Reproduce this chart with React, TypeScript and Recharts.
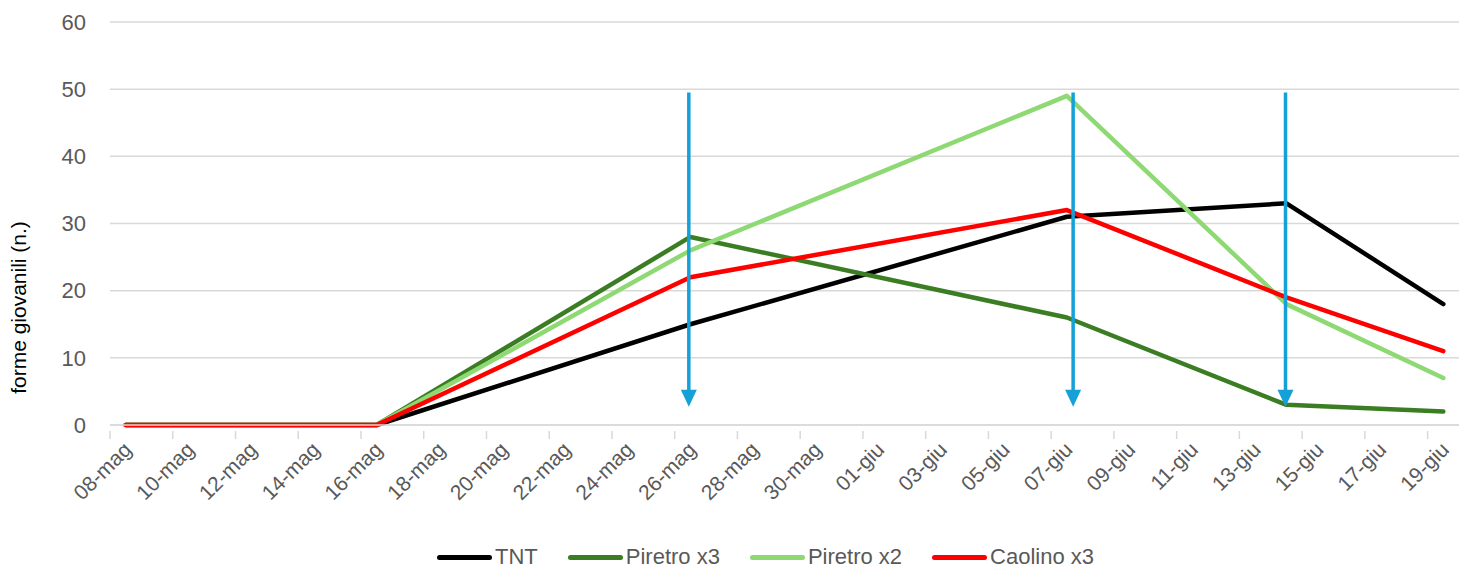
import { LineChart, Line, XAxis, YAxis, CartesianGrid, Legend, ReferenceLine } from "recharts";

// day index 0 = 08-mag
const days = [0, 8, 18, 30, 37, 42];
const tnt = [0, 0, 15, 31, 33, 18];
const piretro3 = [0, 0, 28, 16, 3, 2];
const piretro2 = [0, 0, 26, 49, 18, 7];
const caolino3 = [0, 0, 22, 32, 19, 11];

const tickDays = [0, 2, 4, 6, 8, 10, 12, 14, 16, 18, 20, 22, 24, 26, 28, 30, 32, 34, 36, 38, 40, 42];
const tickLabels = [
  "08-mag", "10-mag", "12-mag", "14-mag", "16-mag", "18-mag", "20-mag", "22-mag", "24-mag", "26-mag", "28-mag",
  "30-mag", "01-giu", "03-giu", "05-giu", "07-giu", "09-giu", "11-giu", "13-giu", "15-giu", "17-giu", "19-giu",
];

// treatment arrows (day index), drawn from top to bottom
const arrowDays = [17.95, 30.2, 36.97];
const arrowTop = 49.5;
const arrowTip = 2.7;

const series = [
  { key: "tnt", name: "TNT", color: "#000000" },
  { key: "piretro3", name: "Piretro x3", color: "#3a7d22" },
  { key: "piretro2", name: "Piretro x2", color: "#8ed973" },
  { key: "caolino3", name: "Caolino x3", color: "#ff0000" },
];

const data = days.map((d, i) => ({
  day: d,
  tnt: tnt[i],
  piretro3: piretro3[i],
  piretro2: piretro2[i],
  caolino3: caolino3[i],
}));

const TEXT = "#595959";
const GRID = "#d9d9d9";
const ARROW = "#16a0d8";
const FONT = "'Liberation Sans', Arial, sans-serif";

const W = 1459;
const H = 578;
const PLOT_LEFT = 110;
const HALF_DAY = (W - PLOT_LEFT) / 43 / 2;

function DateTick(props: any) {
  const { x, y, payload } = props;
  const idx = tickDays.indexOf(payload.value);
  const label = idx >= 0 ? tickLabels[idx] : "";
  const tx = x + 7;
  const ty = y + 20;
  return (
    <g>
      <line x1={x - HALF_DAY} y1={y} x2={x - HALF_DAY} y2={y + 8} stroke={GRID} strokeWidth={1.5} />
      <text
        x={tx}
        y={ty}
        transform={`rotate(-45, ${tx}, ${ty})`}
        textAnchor="end"
        fill={TEXT}
        fontSize={21}
        fontFamily={FONT}
      >
        {label}
      </text>
    </g>
  );
}

function Arrow(props: any) {
  const { x1, y1, x2, y2 } = props;
  if (x1 == null || y2 == null) return null;
  const top = Math.min(y1, y2);
  const tip = Math.max(y1, y2);
  return (
    <g>
      <line x1={x1} y1={top} x2={x1} y2={tip - 14} stroke={ARROW} strokeWidth={3.5} />
      <polygon points={`${x1 - 8},${tip - 17} ${x1 + 8},${tip - 17} ${x1},${tip}`} fill={ARROW} />
    </g>
  );
}

function LegendContent() {
  return (
    <div
      style={{
        display: "flex",
        alignItems: "center",
        height: 30,
        paddingLeft: 437,
        fontFamily: FONT,
        fontSize: 22,
        color: TEXT,
      }}
    >
      {series.map((s) => (
        <div key={s.key} style={{ display: "flex", alignItems: "center", marginRight: 30 }}>
          <span
            style={{
              display: "inline-block",
              width: 55,
              height: 5,
              borderRadius: 3,
              background: s.color,
              marginRight: 3,
            }}
          />
          <span>{s.name}</span>
        </div>
      ))}
    </div>
  );
}

export default function App() {
  return (
    <div style={{ position: "absolute", left: 0, top: 0, width: W, height: H, background: "#fff" }}>
      <LineChart width={W} height={H} data={data} margin={{ top: 22, right: 0, left: 0, bottom: 6 }}>
        <CartesianGrid horizontal vertical={false} stroke={GRID} strokeWidth={1.5} />
        <XAxis
          dataKey="day"
          type="number"
          domain={[-0.5, 42.5]}
          ticks={tickDays}
          interval={0}
          height={117}
          tickLine={false}
          tickMargin={0}
          axisLine={{ stroke: GRID, strokeWidth: 1.5 }}
          tick={<DateTick />}
        />
        <YAxis
          domain={[0, 60]}
          ticks={[0, 10, 20, 30, 40, 50, 60]}
          width={110}
          axisLine={false}
          tickLine={false}
          tickMargin={18}
          tick={{ fill: TEXT, fontSize: 22, fontFamily: FONT }}
          label={{
            value: "forme giovanili (n.)",
            angle: -90,
            position: "insideLeft",
            offset: 19,
            dy: 84,
            style: { fill: "#000", fontSize: 21, fontFamily: FONT, textAnchor: "middle" },
          }}
        />
        <Legend verticalAlign="bottom" align="left" content={<LegendContent />} />
        {series.map((s) => (
          <Line
            key={s.key}
            dataKey={s.key}
            name={s.name}
            stroke={s.color}
            strokeWidth={4.5}
            strokeLinecap="round"
            strokeLinejoin="round"
            dot={false}
            activeDot={false}
            type="linear"
            isAnimationActive={false}
          />
        ))}
        {arrowDays.map((d) => (
          <ReferenceLine
            key={d}
            segment={[
              { x: d, y: arrowTop },
              { x: d, y: arrowTip },
            ]}
            shape={<Arrow />}
          />
        ))}
      </LineChart>
    </div>
  );
}
